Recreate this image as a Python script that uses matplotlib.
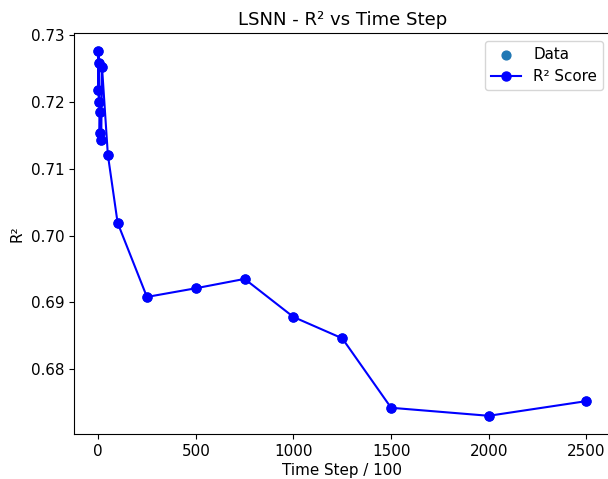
import numpy as np
import matplotlib
matplotlib.use("Agg")
import matplotlib.pyplot as plt

plt.rcParams["font.size"] = 10.9

# time steps (in units of 100) and the R² reached at each
time_steps = [1, 2, 4, 5, 8, 10, 16, 20, 50, 100, 250, 500, 750, 1000, 1250, 1500, 2000, 2500]
r2_scores = [0.7218, 0.7276, 0.7200, 0.7258, 0.7153, 0.7185, 0.7143, 0.7253, 0.7121,
             0.7019, 0.6908, 0.6921, 0.6935, 0.6878, 0.6846, 0.6742, 0.6730, 0.6752]

fig = plt.figure(figsize=(6.08, 4.79), dpi=100)
ax = fig.add_axes([0.1215, 0.0939, 0.8832, 0.8372])

ax.scatter(time_steps, r2_scores, s=40, label="Data")
ax.plot(time_steps, r2_scores, "bo-", markersize=6.5, label="R² Score")

ax.set_title("LSNN - R² vs Time Step")
ax.set_xlabel("Time Step / 100", labelpad=3)
ax.set_ylabel("R²")
ax.set_xticks([0, 500, 1000, 1500, 2000, 2500])
ax.set_yticks([0.68, 0.69, 0.70, 0.71, 0.72, 0.73])
ax.spines["right"].set_visible(False)  # the reference is cropped just before it
ax.legend(loc="upper right")

fig.savefig("out.png", dpi=100)
